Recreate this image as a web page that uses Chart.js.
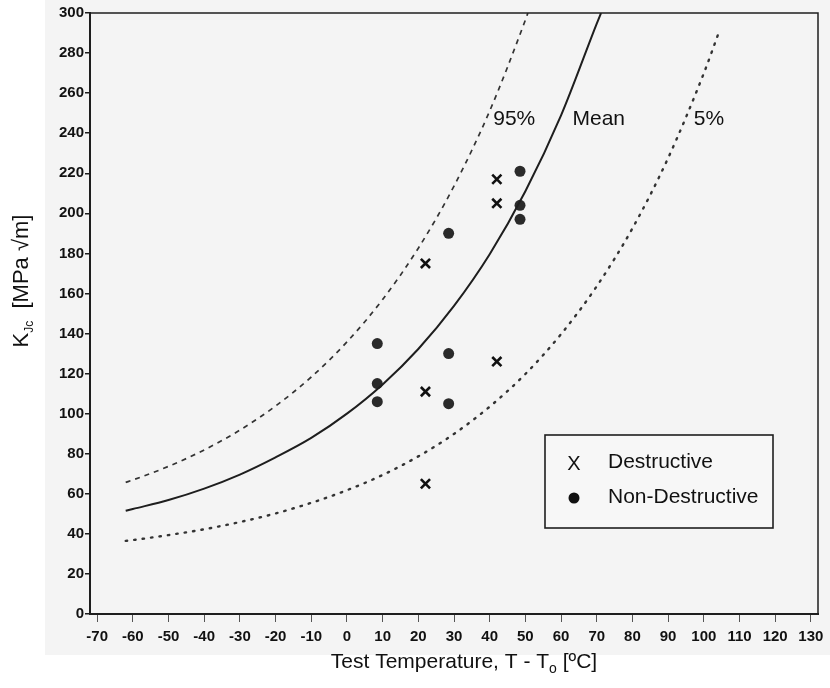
<!DOCTYPE html>
<html>
<head>
<meta charset="utf-8">
<script src="https://cdn.jsdelivr.net/npm/chart.js@4"></script>
<style>
  html, body { margin: 0; padding: 0; background: #fff; }
  #wrap { width: 830px; height: 688px; }
</style>
</head>
<body>
<div id="wrap"><canvas id="chart" width="830" height="688"></canvas></div>
<script>
// curves (T - T0 in ºC, KJc in MPa√m)
const meanT = [-62, -60, -50, -40, -30, -20, -10, 0, 10, 20, 30, 40, 50, 60, 70, 71.2];
const meanK = [51.5, 52.4, 56.9, 62.6, 69.6, 78.2, 87.9, 100, 114.6, 132.3, 153.8, 179.6, 211.0, 248.9, 294.7, 300];

const upperT = [-62, -60, -50, -40, -30, -20, -10, 0, 10, 20, 30, 40, 50, 50.7];
const upperK = [65.7, 66.9, 73.7, 81.9, 91.8, 103.8, 118.3, 135.8, 157.0, 182.6, 213.6, 251.1, 296.5, 300];

const lowerT = [-62, -60, -50, -40, -30, -20, -10, 0, 10, 20, 30, 40, 50, 60, 70, 80, 90, 100, 104.5];
const lowerK = [36.5, 36.9, 39.4, 42.3, 45.9, 50.2, 55.5, 61.8, 69.4, 78.7, 89.9, 103.5, 119.8, 139.7, 163.6, 192.5, 227.6, 269.9, 291.7];

// test results
const destrT = [22, 22, 22, 42, 42, 42];
const destrK = [175, 111, 65, 217, 205, 126];
const nonDestrT = [8.5, 8.5, 8.5, 28.5, 28.5, 28.5, 48.5, 48.5, 48.5];
const nonDestrK = [135, 115, 106, 190, 130, 105, 221, 204, 197];

// curve labels
const curveLabels = ['95%', 'Mean', '5%'];
const curveLabelT = [41, 63.2, 97.2];
const curveLabelK = [247, 247, 247];

const ink = '#1e1e1e';

function pts(xs, ys) {
    return xs.map((x, i) => ({ x: x, y: ys[i] }));
}

// background of the scanned page
const paper = {
    id: 'paper',
    beforeDraw(chart) {
        const c = chart.ctx;
        c.save();
        c.fillStyle = '#ffffff';
        c.fillRect(0, 0, chart.width, chart.height);
        c.fillStyle = '#f4f4f4';
        c.fillRect(45, 0, chart.width - 45, 655);
        c.restore();
    }
};

// frame, titles, curve labels, legend box
const extras = {
    id: 'extras',
    afterDraw(chart) {
        const c = chart.ctx;
        const a = chart.chartArea;
        const xs = chart.scales.x, ys = chart.scales.y;
        c.save();

        // top and right frame lines
        c.strokeStyle = ink;
        c.lineWidth = 1.5;
        c.beginPath();
        c.moveTo(a.left, a.top);
        c.lineTo(a.right, a.top);
        c.lineTo(a.right, a.bottom);
        c.stroke();

        c.fillStyle = '#111';
        c.textBaseline = 'middle';

        // curve labels
        c.font = '21px "Liberation Sans", Arial, sans-serif';
        c.textAlign = 'left';
        curveLabels.forEach((t, i) => {
            c.fillText(t, xs.getPixelForValue(curveLabelT[i]), ys.getPixelForValue(curveLabelK[i]));
        });

        // x title with subscript
        const big = '21px "Liberation Sans", Arial, sans-serif';
        const small = '14px "Liberation Sans", Arial, sans-serif';
        const p1 = 'Test Temperature, T - T', p2 = 'o', p3 = ' [ºC]';
        c.font = big; const w1 = c.measureText(p1).width, w3 = c.measureText(p3).width;
        c.font = small; const w2 = c.measureText(p2).width;
        let x0 = 464 - (w1 + w2 + w3) / 2;
        const ty = 662;
        c.textAlign = 'left';
        c.font = big; c.fillText(p1, x0, ty);
        c.font = small; c.fillText(p2, x0 + w1, ty + 7);
        c.font = big; c.fillText(p3, x0 + w1 + w2, ty);

        // y title with subscript, rotated
        c.save();
        c.translate(22, 281);
        c.rotate(-Math.PI / 2);
        const yb = '22px "Liberation Sans", Arial, sans-serif';
        const ysm = '12px "Liberation Sans", Arial, sans-serif';
        const q1 = 'K', q2 = 'Jc', q3 = '  [MPa √m]';
        c.font = yb; const v1 = c.measureText(q1).width, v3 = c.measureText(q3).width;
        c.font = ysm; const v2 = c.measureText(q2).width;
        let s = -(v1 + v2 + v3) / 2;
        c.font = yb; c.fillText(q1, s, 0);
        c.font = ysm; c.fillText(q2, s + v1, 8);
        c.font = yb; c.fillText(q3, s + v1 + v2, 0);
        c.restore();

        // legend box
        const lx = 545, ly = 435, lw = 228, lh = 93;
        c.fillStyle = '#f7f7f7';
        c.fillRect(lx, ly, lw, lh);
        c.strokeStyle = ink;
        c.lineWidth = 1.6;
        c.strokeRect(lx, ly, lw, lh);
        c.fillStyle = '#111';
        c.font = '20px "Liberation Sans", Arial, sans-serif';
        c.textAlign = 'center';
        c.fillText('X', 574, 464);
        c.beginPath();
        c.arc(574, 498, 5.5, 0, Math.PI * 2);
        c.fill();
        c.textAlign = 'left';
        c.font = '21px "Liberation Sans", Arial, sans-serif';
        c.fillText('Destructive', 608, 462);
        c.fillText('Non-Destructive', 608, 497);

        c.restore();
    }
};

const ctx = document.getElementById('chart').getContext('2d');
const chart = new Chart(ctx, {
    type: 'scatter',
    data: {
        datasets: [{
            label: 'Mean',
            type: 'line',
            data: pts(meanT, meanK),
            borderColor: ink,
            borderWidth: 2,
            pointRadius: 0,
            fill: false,
            cubicInterpolationMode: 'monotone'
        }, {
            label: '95%',
            type: 'line',
            data: pts(upperT, upperK),
            borderColor: '#333',
            borderWidth: 1.7,
            borderDash: [5, 5],
            pointRadius: 0,
            fill: false,
            cubicInterpolationMode: 'monotone'
        }, {
            label: '5%',
            type: 'line',
            data: pts(lowerT, lowerK),
            borderColor: '#333',
            borderWidth: 2.4,
            borderDash: [1.5, 7],
            borderCapStyle: 'round',
            pointRadius: 0,
            fill: false,
            cubicInterpolationMode: 'monotone'
        }, {
            label: 'Destructive',
            data: pts(destrT, destrK),
            pointStyle: 'crossRot',
            pointRadius: 6.5,
            borderColor: '#111',
            borderWidth: 2.6
        }, {
            label: 'Non-Destructive',
            data: pts(nonDestrT, nonDestrK),
            pointStyle: 'circle',
            pointRadius: 5.5,
            backgroundColor: '#2a2a2a',
            borderColor: '#2a2a2a',
            borderWidth: 0
        }]
    },
    options: {
        responsive: false,
        animation: false,
        layout: { padding: { top: 13, right: 12, left: 0, bottom: 0 } },
        plugins: {
            legend: { display: false },
            tooltip: { enabled: false }
        },
        scales: {
            x: {
                type: 'linear',
                min: -72,
                max: 132,
                afterFit: function (scale) { scale.height = 74; },
                border: { color: ink, width: 2 },
                grid: { drawOnChartArea: false, tickLength: 8, color: '#555', lineWidth: 1 },
                ticks: {
                    stepSize: 10,
                    includeBounds: false,
                    maxRotation: 0,
                    autoSkip: false,
                    padding: 6,
                    color: '#111',
                    font: { family: '"Liberation Sans", Arial, sans-serif', size: 15, weight: 'bold' }
                }
            },
            y: {
                type: 'linear',
                min: 0,
                max: 300,
                afterFit: function (scale) { scale.width = 90; },
                border: { color: ink, width: 2 },
                grid: { drawOnChartArea: false, tickLength: 5, color: ink, lineWidth: 1.5 },
                ticks: {
                    stepSize: 20,
                    autoSkip: false,
                    padding: 1,
                    color: '#111',
                    font: { family: '"Liberation Sans", Arial, sans-serif', size: 15, weight: 'bold' }
                }
            }
        }
    },
    plugins: [paper, extras]
});
</script>
</body>
</html>
